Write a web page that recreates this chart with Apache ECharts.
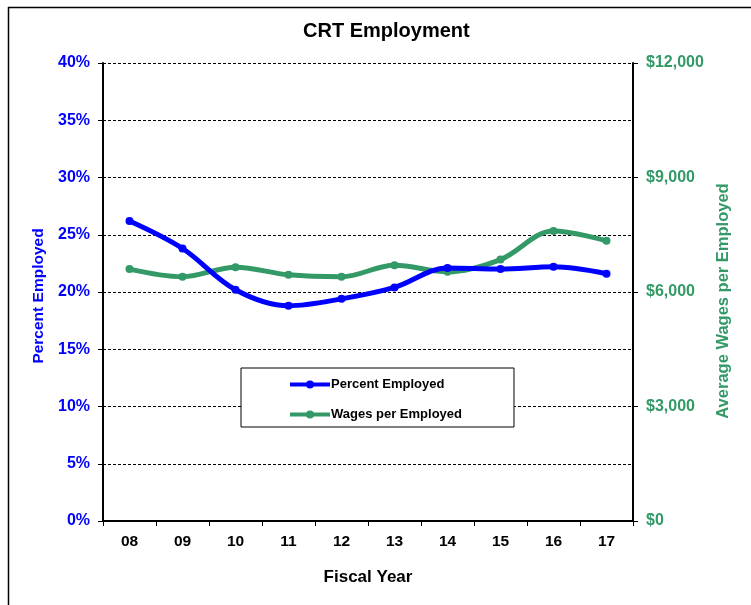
<!DOCTYPE html>
<html><head><meta charset="utf-8">
<script src="https://cdn.jsdelivr.net/npm/echarts@6/dist/echarts.min.js"></script>
<style>html,body{margin:0;padding:0;background:#fff}#c{width:751px;height:605px}</style>
</head><body><div id="c"></div>
<script>
const categories = ['08','09','10','11','12','13','14','15','16','17'];
const percentEmployed = [26.2, 23.8, 20.2, 18.8, 19.4, 20.4, 22.1, 22.0, 22.2, 21.6];
const wagesPerEmployed = [6600, 6400, 6650, 6450, 6400, 6700, 6530, 6850, 7600, 7340];
const FONT = '"Liberation Sans", Arial, sans-serif';
const BLUE = '#0000FF', GREEN = '#339966';
const chart = echarts.init(document.getElementById('c'), null, {renderer:'canvas'});
chart.setOption({
  animation:false,
  backgroundColor:'#fff',
  textStyle:{fontFamily:FONT},
  graphic:[
    {type:'line',shape:{x1:8,y1:7.5,x2:751,y2:7.5},style:{stroke:'#000',lineWidth:1.5}},
    {type:'line',shape:{x1:8.5,y1:7,x2:8.5,y2:605},style:{stroke:'#000',lineWidth:1.5}}
  ],
  title:{text:'CRT Employment',left:298,top:16,textStyle:{fontFamily:FONT,fontSize:20,fontWeight:'bold',color:'#000'}},
  grid:{left:103,right:118,top:63,bottom:84},
  legend:{
    orient:'vertical',left:241,top:368,
    padding:[10,52,6,47],itemGap:17,itemWidth:40,itemHeight:10,
    borderColor:'#000',borderWidth:1,backgroundColor:'#fff',
    lineStyle:{width:4},
    textStyle:{fontFamily:FONT,fontSize:13,fontWeight:'bold',color:'#000',padding:[0,0,0,-4]},
    data:['Percent Employed','Wages per Employed']
  },
  xAxis:{type:'category',data:categories,boundaryGap:true,
    name:'Fiscal Year',nameLocation:'middle',nameGap:48,
    nameTextStyle:{fontFamily:FONT,fontSize:17,fontWeight:'bold',color:'#000'},
    axisLine:{lineStyle:{color:'#000',width:2}},
    axisTick:{show:true,alignWithLabel:false,length:5,lineStyle:{color:'#000'}},
    axisLabel:{fontFamily:FONT,fontSize:15.5,fontWeight:'bold',color:'#000',margin:13}
  },
  yAxis:[
    {type:'value',min:0,max:40,interval:5,position:'left',
     name:'Percent Employed',nameLocation:'middle',nameGap:56,nameRotate:90,
     nameTextStyle:{fontFamily:FONT,fontSize:15.5,fontWeight:'bold',color:BLUE,padding:[0,0,0,-8]},
     axisLine:{show:true,lineStyle:{color:'#000',width:2}},
     axisTick:{show:true,length:5,lineStyle:{color:'#000'}},
     axisLabel:{formatter:'{value}%',fontFamily:FONT,fontSize:16,fontWeight:'bold',color:BLUE,margin:13},
     splitLine:{show:true,lineStyle:{color:'#000',type:[3,2],width:1}}
    },
    {type:'value',min:0,max:12000,interval:3000,position:'right',
     name:'Average Wages per Employed',nameLocation:'middle',nameGap:67,nameRotate:90,
     nameTextStyle:{fontFamily:FONT,fontSize:16.5,fontWeight:'bold',color:GREEN,padding:[0,0,0,-18]},
     axisLine:{show:true,lineStyle:{color:'#000',width:2}},
     axisTick:{show:true,length:5,lineStyle:{color:'#000'}},
     axisLabel:{formatter:v=>'$'+v.toLocaleString('en-US'),fontFamily:FONT,fontSize:16,fontWeight:'bold',color:GREEN,margin:13},
     splitLine:{show:false}
    }
  ],
  series:[
    {name:'Percent Employed',type:'line',yAxisIndex:0,data:percentEmployed,smooth:0.35,
     symbol:'circle',symbolSize:8,showSymbol:true,
     lineStyle:{color:BLUE,width:5},itemStyle:{color:BLUE},z:3},
    {name:'Wages per Employed',type:'line',yAxisIndex:1,data:wagesPerEmployed,smooth:0.35,
     symbol:'circle',symbolSize:8,showSymbol:true,
     lineStyle:{color:GREEN,width:5},itemStyle:{color:GREEN},z:2}
  ]
});
</script></body></html>
